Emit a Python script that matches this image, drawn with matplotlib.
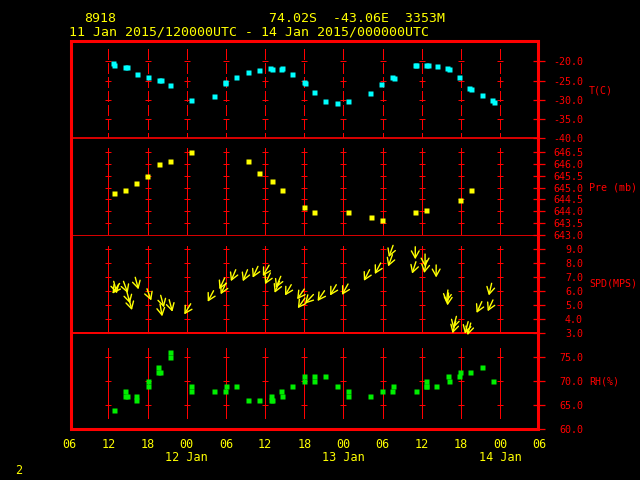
import matplotlib
matplotlib.use("Agg")
import numpy as np
import matplotlib.pyplot as plt
from matplotlib.patches import Rectangle
from matplotlib.transforms import ScaledTranslation, blended_transform_factory

plt.rcParams['font.family'] = ['DejaVu Sans Mono', 'DejaVu Sans']
plt.rcParams['axes.unicode_minus'] = False

# 标题
STATION = "8918"
LOCATION = "74.02S  -43.06E  3353M"
PERIOD = "11 Jan 2015/120000UTC - 14 Jan 2015/000000UTC"
PAGE = "2"

# 时间: hours since 11 Jan 2015 00UTC
x_ticks = [6, 12, 18, 24, 30, 36, 42, 48, 54, 60, 66, 72, 78]
x_tick_labels = ['06', '12', '18', '00', '06', '12', '18', '00', '06', '12', '18', '00', '06']
day_hours = [24, 48, 72]
day_labels = ['12 Jan', '13 Jan', '14 Jan']

# 温度 T(C)
t_hours = [12.7, 12.9, 14.5, 14.8, 16.3, 18.0, 19.7, 20.0, 21.5, 24.7, 28.1, 29.8, 29.9,
           31.6, 33.3, 35.0, 36.8, 37.0, 38.5, 38.6, 40.1, 41.9, 42.1, 43.5, 45.2, 47.0,
           48.7, 52.1, 53.8, 55.5, 55.7, 59.0, 59.1, 60.7, 61.0, 62.3, 63.9, 64.2, 65.7,
           67.3, 67.5, 69.2, 70.8, 71.0]
t_values = [-20.4, -21.0, -21.5, -21.5, -23.3, -24.0, -24.8, -24.8, -26.2, -30.0, -29.0,
            -25.7, -25.3, -24.1, -22.8, -22.3, -21.7, -22.0, -21.9, -21.7, -23.3, -25.3,
            -25.6, -28.0, -30.2, -30.8, -30.2, -28.2, -25.8, -24.1, -24.4, -21.1, -20.9,
            -21.0, -21.0, -21.2, -21.7, -22.0, -24.1, -26.9, -27.2, -28.8, -30.1, -30.6]

# 气压 Pre (mb)
p_hours = [12.9, 14.5, 16.2, 17.9, 19.7, 21.5, 24.7, 33.3, 35.0, 37.0, 38.6, 42.0, 43.5,
           48.7, 52.2, 53.9, 59.0, 60.6, 65.8, 67.5]
p_values = [644.78, 644.91, 645.20, 645.49, 645.99, 646.12, 646.50, 646.12, 645.62, 645.28,
            644.91, 644.20, 643.99, 643.99, 643.78, 643.65, 643.99, 644.07, 644.49, 644.91]

# 风 SPD(MPS), direction the wind blows from (deg)
spd_hours = [12.8, 13.7, 14.3, 14.8, 15.1, 16.1, 17.9, 20.0, 19.9, 21.3, 24.6, 28.1, 29.8,
             30.0, 31.5, 33.3, 34.9, 36.6, 36.8, 38.4, 38.2, 40.0, 42.0, 42.1, 43.4, 45.1,
             46.9, 48.7, 52.0, 53.7, 55.6, 55.5, 59.0, 59.1, 60.5, 60.7, 62.2, 64.0, 64.1,
             65.3, 65.2, 67.1, 67.5, 69.2, 70.9, 70.7]
spd_values = [6.69, 6.54, 6.69, 5.98, 5.50, 6.98, 6.16, 5.69, 5.07, 5.38, 5.09, 6.02, 6.93,
              6.57, 7.52, 7.52, 7.76, 7.84, 7.29, 7.05, 6.69, 6.45, 6.14, 5.50, 5.75, 6.02,
              6.45, 6.50, 7.52, 8.00, 9.26, 8.59, 9.16, 8.09, 8.64, 8.16, 7.86, 6.07, 5.86,
              4.19, 3.84, 3.81, 3.71, 5.24, 5.36, 6.55]
spd_dir = [345, 35, 340, 345, 345, 345, 340, 345, 350, 345, 31, 28, 25, 25, 23, 22, 25,
           30, 25, 23, 23, 30, 35, 35, 43, 34, 30, 29, 27, 28, 20, 20, 0, 18, 0, 10, 0,
           7, 5, 15, 15, 15, 15, 25, 25, 13]

# 湿度 RH(%)
rh_hours = [12.8, 14.5, 14.6, 14.9, 16.2, 16.2, 18.0, 18.0, 19.6, 19.6, 19.9, 21.5, 21.5,
            24.7, 24.7, 28.1, 29.8, 30.0, 31.6, 33.3, 35.0, 36.9, 36.9, 37.0, 38.5, 38.6,
            40.1, 42.0, 42.0, 43.5, 43.5, 45.2, 47.0, 48.7, 48.7, 52.1, 53.9, 55.6, 55.5,
            59.1, 60.6, 60.6, 60.7, 62.2, 64.0, 64.1, 65.7, 65.8, 67.4, 69.2, 70.9]
rh_values = [64, 68, 67, 67, 67, 66, 70, 69, 73, 72, 72, 76, 75, 69, 68, 68, 68, 69, 69,
             66, 66, 67, 66, 66, 68, 67, 69, 71, 70, 71, 70, 71, 69, 68, 67, 67, 68, 69,
             68, 68, 70, 69, 69, 69, 71, 70, 71, 72, 72, 73, 70]

W, H = 640, 480
RED = '#ff0000'
YEL = '#ffff00'

fig = plt.figure(figsize=(6.4, 4.8), dpi=100, facecolor='black')


def panel(top, bottom):
    ax = fig.add_axes([69.3 / W, 1 - bottom / H, 470 / W, (bottom - top) / H])
    ax.set_facecolor('none')
    for s in ax.spines.values():
        s.set_visible(False)
    ax.set_xlim(6, 78)
    ax.set_xticks([])
    return ax


ax_t = panel(42, 138.3)
ax_p = panel(139.7, 235.3)
ax_s = panel(235, 333)
ax_rh = panel(333.3, 429.3)

# (axes, ylim, ticks, name, line top, line bottom, dashed, separator lw)
setup = [
    (ax_t, (-40, -15), [-40, -35, -30, -25, -20], 'T(C)', 0.927, 0.0, True, 1.2),
    (ax_p, (643, 647), [643.0, 643.5, 644.0, 644.5, 645.0, 645.5, 646.0, 646.5], 'Pre (mb)', 0.913, 0.0, False, 0.6),
    (ax_s, (3, 10), [3, 4, 5, 6, 7, 8, 9], 'SPD(MPS)', 0.888, 0.0, False, 1.4),
    (ax_rh, (60, 80), [60, 65, 70, 75], 'RH(%)', 0.847, 0.118, False, None),
]

grid_x = x_ticks[1:-1]

for ax, ylim, ticks, name, ltop, lbot, dashed, sep in setup:
    ax.set_ylim(*ylim)
    ax.set_yticks(ticks)
    ax.set_yticklabels(['%.1f' % v for v in ticks])
    ax.yaxis.tick_right()
    ax.tick_params(axis='y', direction='inout', length=8, width=0.9, color=RED,
                   labelcolor=RED, labelsize=7.2, pad=27.5)
    for lab in ax.get_yticklabels():
        lab.set_horizontalalignment('right')
    # 网格竖线
    for gx in grid_x:
        ls = (0, (10.8, 3.6)) if dashed else '-'
        ax.axvline(gx, ymin=ltop, ymax=lbot, color=RED, lw=0.72, ls=ls, antialiased=False)
    # 十字标记
    gx, gy = np.meshgrid(grid_x, ticks[1:])
    ax.plot(gx.ravel(), gy.ravel(), ls='none', marker='_', ms=5, mew=0.72, color=RED,
            antialiased=False)
    if sep:
        ax.axhline(ylim[0], xmin=0.003, xmax=0.997, color=RED, lw=sep, clip_on=False)
    ax.text(1.106, 0.5, name, transform=ax.transAxes, ha='left', va='center',
            color=RED, fontsize=7.2)

# 数据点
ax_t.plot(t_hours, t_values, ls='none', marker='s', ms=3.6, mec='none', color='#00ffff')
ax_p.plot(p_hours, p_values, ls='none', marker='s', ms=3.6, mec='none', color=YEL)
ax_rh.plot(rh_hours, rh_values, ls='none', marker='s', ms=3.6, mec='none', color='#00ee00')

# 风箭头
L = 0.125
for h, s, d in zip(spd_hours, spd_values, spd_dir):
    b = np.radians(d - 180)
    tr = ax_s.transData + ScaledTranslation(L * np.sin(b), L * np.cos(b), fig.dpi_scale_trans)
    ax_s.annotate('', xy=(h, s), xycoords=tr, xytext=(h, s), textcoords='data',
                  arrowprops=dict(arrowstyle='->,head_length=0.5,head_width=0.28',
                                  color=YEL, lw=1.0, shrinkA=0, shrinkB=0))

# 横轴
ax_rh.set_xticks(x_ticks)
ax_rh.set_xticklabels(x_tick_labels)
ax_rh.tick_params(axis='x', length=0, labelcolor=YEL, labelsize=8.5, pad=6.5)
btr = blended_transform_factory(ax_rh.transData, ax_rh.transAxes)
for h, lab in zip(day_hours, day_labels):
    ax_rh.text(h, -0.289, lab, transform=btr, ha='center', va='center', color=YEL, fontsize=8.5)

# 外框
fig.add_artist(Rectangle((70.5 / W, 1 - 428.5 / H), (538.3 - 70.5) / W, (428.5 - 40.5) / H,
                         transform=fig.transFigure, fill=False, ec=RED, lw=2.2))

# 标题
fig.text(84.5 / W, 1 - 18.5 / H, STATION, ha='left', va='center', color=YEL, fontsize=9.5)
fig.text(268.6 / W, 1 - 18.5 / H, LOCATION, ha='left', va='center', color=YEL, fontsize=9.5)
fig.text(68.6 / W, 1 - 31.7 / H, PERIOD, ha='left', va='center', color=YEL, fontsize=9.5)
fig.text(15 / W, 1 - 470 / H, PAGE, ha='left', va='center', color=YEL, fontsize=8.5)

plt.savefig("out.png", dpi=100, facecolor='black')
